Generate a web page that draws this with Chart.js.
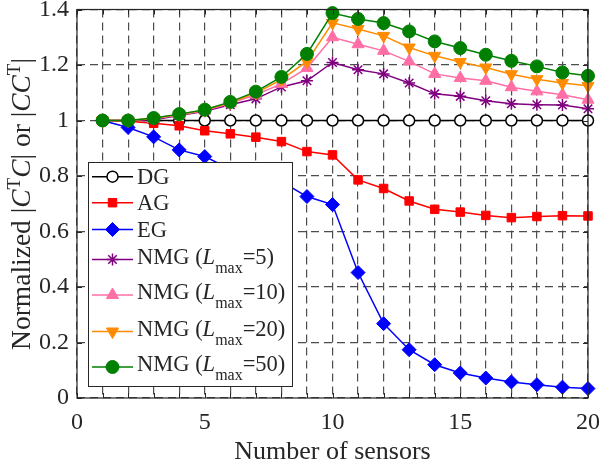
<!DOCTYPE html>
<html>
<head>
<meta charset="utf-8">
<script src="https://cdn.jsdelivr.net/npm/chart.js@4.4.0/dist/chart.umd.min.js"></script>
<style>
  html, body { margin: 0; padding: 0; background: #fff; }
  #wrap { width: 600px; height: 460px; }
</style>
</head>
<body>
<div id="wrap"><canvas id="c" width="600" height="460"></canvas></div>
<script>
// ---- data ----
const sensors = [1, 2, 3, 4, 5, 6, 7, 8, 9, 10, 11, 12, 13, 14, 15, 16, 17, 18, 19, 20];
const dg    = [1, 1, 1, 1, 1, 1, 1, 1, 1, 1, 1, 1, 1, 1, 1, 1, 1, 1, 1, 1];
const ag    = [1.0, 0.997, 0.99, 0.981, 0.963, 0.952, 0.940, 0.924, 0.888, 0.876, 0.786, 0.755, 0.710, 0.680, 0.670, 0.658, 0.650, 0.654, 0.657, 0.656];
const eg    = [1.0, 0.975, 0.941, 0.894, 0.870, 0.825, 0.800, 0.780, 0.726, 0.697, 0.452, 0.268, 0.174, 0.120, 0.090, 0.072, 0.058, 0.048, 0.039, 0.034];
const nmg5  = [1.0, 1.0, 1.003, 1.018, 1.033, 1.057, 1.078, 1.121, 1.143, 1.209, 1.183, 1.168, 1.135, 1.096, 1.087, 1.071, 1.060, 1.057, 1.056, 1.042];
const nmg10 = [1.0, 1.0, 1.006, 1.020, 1.036, 1.062, 1.093, 1.132, 1.189, 1.300, 1.275, 1.251, 1.213, 1.168, 1.153, 1.143, 1.120, 1.105, 1.093, 1.075];
const nmg20 = [1.0, 1.0, 1.008, 1.022, 1.038, 1.065, 1.099, 1.147, 1.213, 1.352, 1.330, 1.305, 1.263, 1.233, 1.211, 1.191, 1.167, 1.149, 1.135, 1.125];
const nmg50 = [1.0, 1.0, 1.009, 1.023, 1.039, 1.067, 1.104, 1.157, 1.240, 1.387, 1.366, 1.351, 1.321, 1.285, 1.261, 1.237, 1.215, 1.195, 1.173, 1.161];

const xTicks = [0, 5, 10, 15, 20];
const yTicks = [0, 0.2, 0.4, 0.6, 0.8, 1, 1.2, 1.4];
const xTitle = 'Number of sensors';

// legend labels: [text before subscript, subscript, text after]
const legendLabels = [
  ['DG'], ['AG'], ['EG'],
  ['NMG (', 'max', '=5)'],
  ['NMG (', 'max', '=10)'],
  ['NMG (', 'max', '=20)'],
  ['NMG (', 'max', '=50)']
];

const SERIF = '"Liberation Serif", "DejaVu Serif", serif';
const TEXT = '#262626';

function series(label, data, color, style) {
  return {
    label,
    data: data.map((y, i) => ({ x: sensors[i], y })),
    borderColor: color,
    backgroundColor: style.fill || color,
    pointBorderColor: color,
    pointBackgroundColor: style.fill || color,
    borderWidth: 1.5,
    pointStyle: style.pointStyle,
    pointRadius: style.radius,
    pointRotation: style.rotation || 0,
    pointBorderWidth: style.pbw ?? 1,
    pointHoverRadius: style.radius,
    tension: 0,
    clip: false
  };
}

const datasets = [
  series('DG', dg, '#000000', { pointStyle: 'circle', radius: 5.5, fill: '#ffffff', pbw: 1.5 }),
  series('AG', ag, '#ff0000', { pointStyle: 'rect', radius: 6 }),
  series('EG', eg, '#0000ff', { pointStyle: 'rectRot', radius: 7 }),
  series('NMG5', nmg5, '#800080', { pointStyle: 'star', radius: 6, pbw: 1.5 }),
  series('NMG10', nmg10, '#ff6fa6', { pointStyle: 'triangle', radius: 7 }),
  series('NMG20', nmg20, '#ff8c00', { pointStyle: 'triangle', radius: 7, rotation: 180 }),
  series('NMG50', nmg50, '#008000', { pointStyle: 'circle', radius: 6.5 })
];
// later series drawn on top (as in the original)
datasets.forEach((d, i) => { d.order = datasets.length - i; });

// ---- helpers for mixed-style text ----
function drawRuns(ctx, runs, x, y) {
  let cx = x;
  runs.forEach(r => {
    ctx.font = r.font;
    ctx.fillText(r.t, cx, y + (r.dy || 0));
    cx += ctx.measureText(r.t).width;
  });
  return cx;
}
function runsWidth(ctx, runs) {
  let w = 0;
  runs.forEach(r => { ctx.font = r.font; w += ctx.measureText(r.t).width; });
  return w;
}

const frame = {
  id: 'frame',
  afterDraw(chart) {
    const { ctx, chartArea: a, scales } = chart;
    ctx.save();
    // inward tick marks on all four sides
    ctx.strokeStyle = TEXT;
    ctx.lineWidth = 1;
    ctx.beginPath();
    for (let v = 0; v <= 20; v++) {
      const px = Math.round(scales.x.getPixelForValue(v)) + 0.5;
      ctx.moveTo(px, a.bottom); ctx.lineTo(px, a.bottom - 5);
      ctx.moveTo(px, a.top); ctx.lineTo(px, a.top + 5);
    }
    yTicks.forEach(v => {
      const py = Math.round(scales.y.getPixelForValue(v)) + 0.5;
      ctx.moveTo(a.left, py); ctx.lineTo(a.left + 5, py);
      ctx.moveTo(a.right, py); ctx.lineTo(a.right - 5, py);
    });
    ctx.stroke();
    // box
    ctx.lineWidth = 1.2;
    ctx.strokeRect(a.left, a.top, a.right - a.left, a.bottom - a.top);

    // legend box
    const lx = 88, ly = 162, lw = 204, lh = 224;
    ctx.fillStyle = '#ffffff';
    ctx.fillRect(lx, ly, lw, lh);
    ctx.strokeStyle = TEXT;
    ctx.lineWidth = 1;
    ctx.strokeRect(lx + 0.5, ly + 0.5, lw, lh);
    const rowY = [176.7, 202.7, 229.5, 259.5, 295, 331.5, 367];
    const main = '22.5px ' + SERIF, ital = 'italic 22.5px ' + SERIF, sub = '16px ' + SERIF;
    datasets.forEach((d, i) => {
      const y = rowY[i];
      ctx.strokeStyle = d.borderColor;
      ctx.lineWidth = 1.5;
      ctx.beginPath(); ctx.moveTo(92, y); ctx.lineTo(133, y); ctx.stroke();
      ctx.fillStyle = d.pointBackgroundColor;
      ctx.strokeStyle = d.pointBorderColor;
      ctx.lineWidth = d.pointBorderWidth;
      Chart.helpers.drawPoint(ctx, {
        pointStyle: d.pointStyle, rotation: d.pointRotation,
        radius: d.pointRadius, borderWidth: d.pointBorderWidth
      }, 112.5, y);
      ctx.fillStyle = TEXT;
      ctx.textBaseline = 'alphabetic';
      ctx.textAlign = 'left';
      const lab = legendLabels[i];
      if (lab.length === 1) {
        drawRuns(ctx, [{ t: lab[0], font: main }], 137, y + 7.5);
      } else {
        drawRuns(ctx, [
          { t: lab[0], font: main },
          { t: 'L', font: ital },
          { t: lab[1], font: sub, dy: 9 },
          { t: lab[2], font: main }
        ], 137, y + 4);
      }
    });

    // x-axis title
    ctx.fillStyle = TEXT;
    ctx.font = '26px ' + SERIF;
    ctx.textAlign = 'center';
    ctx.fillText(xTitle, (a.left + a.right) / 2, 459);
    ctx.textAlign = 'left';

    // y-axis title with italic C and superscript T
    const big = '27.5px ' + SERIF, bigIt = 'italic 27.5px ' + SERIF, sup = '19px ' + SERIF;
    const yRuns = [
      { t: 'Normalized |', font: big },
      { t: 'C', font: bigIt },
      { t: 'T', font: sup, dy: -10 },
      { t: 'C', font: bigIt },
      { t: '| or |', font: big },
      { t: 'CC', font: bigIt },
      { t: 'T', font: sup, dy: -10 },
      { t: '|', font: big }
    ];
    ctx.translate(29.5, 204);
    ctx.rotate(-Math.PI / 2);
    drawRuns(ctx, yRuns, -runsWidth(ctx, yRuns) / 2, 0);
    ctx.restore();
  }
};

const gridStyle = {
  color: '#4d4d4d',
  lineWidth: 1.2,
  drawTicks: false
};

new Chart(document.getElementById('c'), {
  type: 'scatter',
  data: { datasets: datasets.map(d => ({ ...d, showLine: true })) },
  options: {
    responsive: false,
    animation: false,
    events: [],
    layout: { padding: { left: 0, right: 12, top: 9.5, bottom: 0 } },
    plugins: { legend: { display: false }, tooltip: { enabled: false } },
    scales: {
      x: {
        type: 'linear', min: 0, max: 20,
        border: { display: false, dash: [8, 5] },
        grid: { ...gridStyle },
        ticks: {
          stepSize: 1, autoSkip: false, maxRotation: 0, padding: 10,
          color: TEXT, font: { family: SERIF, size: 24 },
          callback: v => (xTicks.includes(v) ? String(v) : '')
        },
        afterFit(s) { s.height = 62; s.paddingLeft = 0; s.paddingRight = 0; }
      },
      y: {
        type: 'linear', min: 0, max: 1.4,
        border: { display: false, dash: [8, 5] },
        grid: { ...gridStyle },
        ticks: {
          stepSize: 0.2, padding: 8, color: TEXT,
          font: { family: SERIF, size: 24 },
          callback: v => String(+v.toFixed(1))
        },
        afterFit(s) { s.width = 77; s.paddingTop = 0; s.paddingBottom = 0; }
      }
    }
  },
  plugins: [frame]
});
</script>
</body>
</html>
